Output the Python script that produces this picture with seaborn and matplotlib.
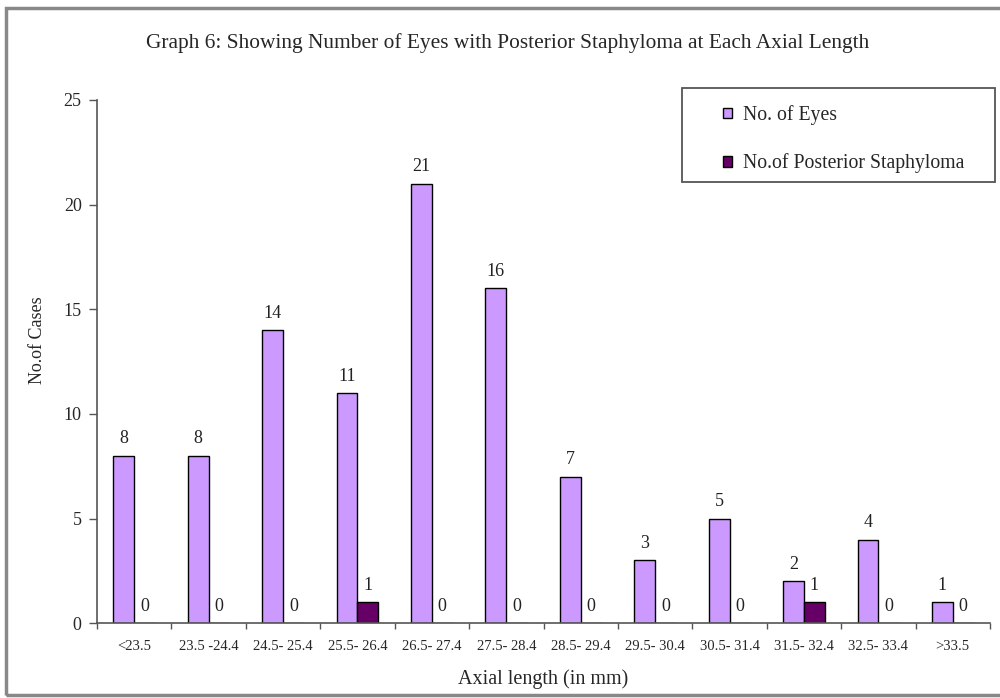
import matplotlib
matplotlib.use("Agg")
import matplotlib.pyplot as plt
import seaborn as sns
import pandas as pd
from matplotlib.patches import Rectangle

# Axial length bins and counts
ranges = ["<23.5", "23.5 -24.4", "24.5- 25.4", "25.5- 26.4", "26.5- 27.4",
          "27.5- 28.4", "28.5- 29.4", "29.5- 30.4", "30.5- 31.4", "31.5- 32.4",
          "32.5- 33.4", ">33.5"]
eyes = [8, 8, 14, 11, 21, 16, 7, 3, 5, 2, 4, 1]
staphyloma = [0, 0, 0, 1, 0, 0, 0, 0, 0, 1, 0, 0]
series_names = ["No. of Eyes", "No.of Posterior Staphyloma"]
colors = ["#CC99FF", "#660066"]

df = pd.DataFrame({
    "range": ranges * 2,
    "count": eyes + staphyloma,
    "series": [series_names[0]] * len(ranges) + [series_names[1]] * len(ranges),
})

sns.set_theme(style="white")
plt.rcParams["font.family"] = ["Liberation Serif", "DejaVu Serif"]

fig = plt.figure(figsize=(10, 6.98), dpi=100)
ax = fig.add_axes([0.097, 0.107, 0.893, 0.75])

sns.barplot(data=df, x="range", y="count", hue="series", palette=colors,
            order=ranges, hue_order=series_names, width=0.56, gap=0,
            edgecolor="black", linewidth=1.0, saturation=1, ax=ax)

for cont in ax.containers:
    ax.bar_label(cont, fmt="%d", padding=6, fontsize=13, color="#222222")

ax.set_ylim(0, 25)
ax.set_yticks(range(0, 26, 5))
ax.set_xlim(-0.5, len(ranges) - 0.5)
ax.set_xticks(range(len(ranges)))
ax.set_xticklabels(ranges, fontsize=10.5)
ax.tick_params(axis="x", length=0, pad=12)
ax.tick_params(axis="y", labelsize=13, length=6, width=1, direction="out",
               left=True, color="#555555", pad=5)
# category boundary ticks under the x axis
ax.set_xticks([i - 0.5 for i in range(len(ranges) + 1)], minor=True)
ax.tick_params(axis="x", which="minor", length=4, width=1, direction="out",
               bottom=True, color="#555555")

for s in ["top", "right"]:
    ax.spines[s].set_visible(False)
for s in ["left", "bottom"]:
    ax.spines[s].set_color("#555555")
    ax.spines[s].set_linewidth(1.2)

ax.set_xlabel("Axial length (in mm)", fontsize=14.5, labelpad=12)
ax.set_ylabel("No.of Cases", fontsize=13)
ax.yaxis.set_label_coords(-0.057, 0.54)

# legend entries, with a separately drawn box around them
leg = ax.legend(loc="upper left", bbox_to_anchor=(0.701, 0.99), fontsize=14.2,
                frameon=False, handlelength=0.45, handleheight=0.45,
                handletextpad=0.55, labelspacing=1.45, borderpad=0,
                borderaxespad=0)
for h in leg.legend_handles:
    h.set_edgecolor("black")
ax.add_patch(Rectangle((0.655, 0.843), 0.3506, 0.18, transform=ax.transAxes,
                       fill=False, edgecolor="#555555", linewidth=1.3,
                       clip_on=False))

fig.text(0.508, 0.938, "Graph 6: Showing Number of Eyes with Posterior Staphyloma at Each Axial Length",
         ha="center", va="center", fontsize=15.4)

# outer chart frame
fig.patches.append(Rectangle((0.006, 0.005), 1.2, 0.984, transform=fig.transFigure,
                             fill=False, edgecolor="#888888", linewidth=2.5))

fig.savefig("out.png", dpi=100, facecolor="white")
